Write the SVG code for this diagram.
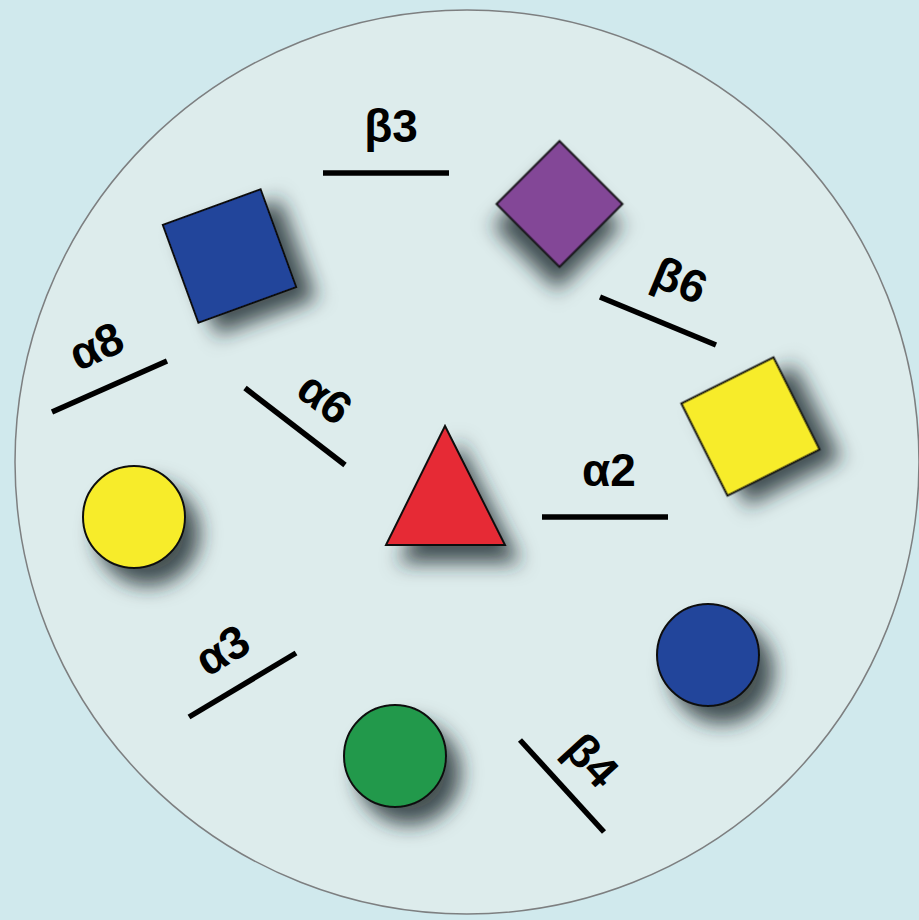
<svg xmlns="http://www.w3.org/2000/svg" width="919" height="920" viewBox="0 0 919 920">
<defs>
<filter id="shadow" x="-50%" y="-50%" width="220%" height="220%">
<feGaussianBlur in="SourceAlpha" stdDeviation="10"/>
<feOffset dx="14" dy="17" result="b"/>
<feFlood flood-color="#1e2a2e" flood-opacity="0.8"/>
<feComposite in2="b" operator="in" result="s"/>
<feMerge><feMergeNode in="s"/><feMergeNode in="SourceGraphic"/></feMerge>
</filter>
<style>
.shape{stroke:#111;stroke-width:2;filter:url(#shadow)}
.bar{stroke:#000;stroke-width:5.5;stroke-linecap:butt;fill:none}
.lbl{font-family:"Liberation Sans",Arial,sans-serif;font-weight:bold;font-size:46px;fill:#000;text-anchor:middle}
</style>
</defs>
<rect width="919" height="920" fill="#d0e9ed"/>
<circle cx="467" cy="462" r="452" fill="#ddecec" stroke="#7d7f80" stroke-width="1.5"/>

<g id="blue-square"><rect class="shape" x="-52" y="-52" width="104" height="104" fill="#21449b" transform="translate(229.5,256) rotate(-20)"/></g>
<g id="purple-diamond"><rect class="shape" x="-44.5" y="-44.5" width="89" height="89" fill="#834797" transform="translate(559.5,204) rotate(45)"/></g>
<g id="yellow-square"><rect class="shape" x="-51.5" y="-51.5" width="103" height="103" fill="#f7ec2a" transform="translate(750.5,426.5) rotate(-26.6)"/></g>
<g id="red-triangle"><polygon class="shape" points="445,426 505,545 386,545" fill="#e62b36"/></g>
<g id="yellow-circle"><circle class="shape" cx="134" cy="517" r="51" fill="#f7ec2a"/></g>
<g id="blue-circle"><circle class="shape" cx="708" cy="655" r="51" fill="#21449b"/></g>
<g id="green-circle"><circle class="shape" cx="395" cy="756" r="51" fill="#21994b"/></g>

<g id="connectors">
<line class="bar" x1="323" y1="173" x2="449" y2="173"/>
<line class="bar" x1="600" y1="297" x2="716" y2="345"/>
<line class="bar" x1="52" y1="412" x2="167" y2="361"/>
<line class="bar" x1="245" y1="388" x2="345" y2="465"/>
<line class="bar" x1="542" y1="517" x2="668" y2="517"/>
<line class="bar" x1="189" y1="717" x2="296" y2="653"/>
<line class="bar" x1="520" y1="740" x2="604" y2="832"/>
</g>

<g id="labels">
<text class="lbl" x="391" y="142">β3</text>
<text class="lbl" transform="translate(680,280) rotate(22.5)" y="16">β6</text>
<text class="lbl" transform="translate(96,346) rotate(-24)" y="16">α8</text>
<text class="lbl" transform="translate(325,398) rotate(37.6)" y="16">α6</text>
<text class="lbl" x="609" y="486">α2</text>
<text class="lbl" transform="translate(222,650) rotate(-31)" y="16">α3</text>
<text class="lbl" transform="translate(592,760) rotate(47.6)" y="16">β4</text>
</g>
</svg>
